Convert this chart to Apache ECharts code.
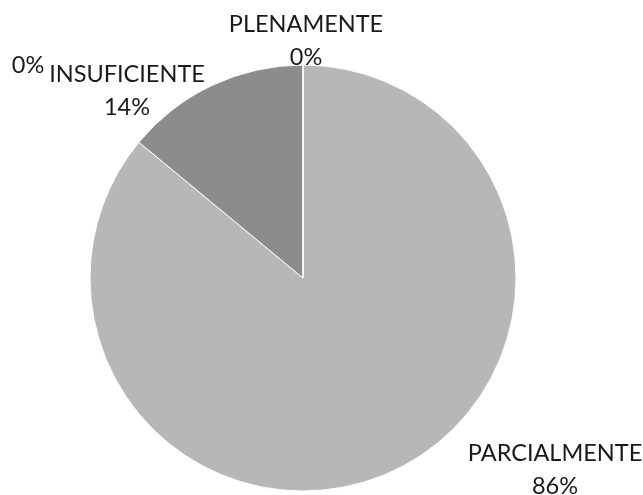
<!DOCTYPE html>
<html>
<head>
    <meta charset="utf-8" />
    <script src="https://cdn.jsdelivr.net/npm/echarts@6/dist/echarts.min.js"></script>
    <style>
        html, body { margin: 0; padding: 0; background: #fff; }
        #main { width: 643px; height: 495px; }
    </style>
</head>
<body>
    <div id="main"></div>
    <script type="text/javascript">
        var categories = ['PLENAMENTE', 'PARCIALMENTE', 'INSUFICIENTE', ''];
        var values = [0, 86, 14, 0];
        var colors = ['#a5a5a5', '#b7b7b7', '#8c8c8c', '#7a7a7a'];

        // where each label sits (centre of the text block)
        var labelSpots = [[306, 41], [555, 470], [127, 91], [28, 65]];

        var chart = echarts.init(document.getElementById('main'));

        var option = {
            animation: false,
            series: [{
                type: 'pie',
                center: [303, 278],
                radius: 213,
                startAngle: 90,
                clockwise: true,
                percentPrecision: 0,
                data: categories.map(function (name, i) {
                    return { name: name, value: values[i], itemStyle: { color: colors[i] } };
                }),
                itemStyle: {
                    borderColor: '#ffffff',
                    borderWidth: 1
                },
                label: {
                    show: true,
                    position: 'outside',
                    fontFamily: 'Lato, sans-serif',
                    fontSize: 23.5,
                    lineHeight: 33,
                    color: '#1a1a1a',
                    align: 'center',
                    overflow: 'none',
                    width: 300,
                    formatter: function (p) {
                        return p.name ? p.name + '\n' + p.percent + '%' : p.percent + '%';
                    }
                },
                labelLine: { show: false },
                labelLayout: function (p) {
                    var s = labelSpots[p.dataIndex];
                    return { x: s[0], y: s[1], align: 'center', verticalAlign: 'middle' };
                },
                emphasis: { disabled: true }
            }]
        };

        chart.setOption(option);
    </script>
</body>
</html>
